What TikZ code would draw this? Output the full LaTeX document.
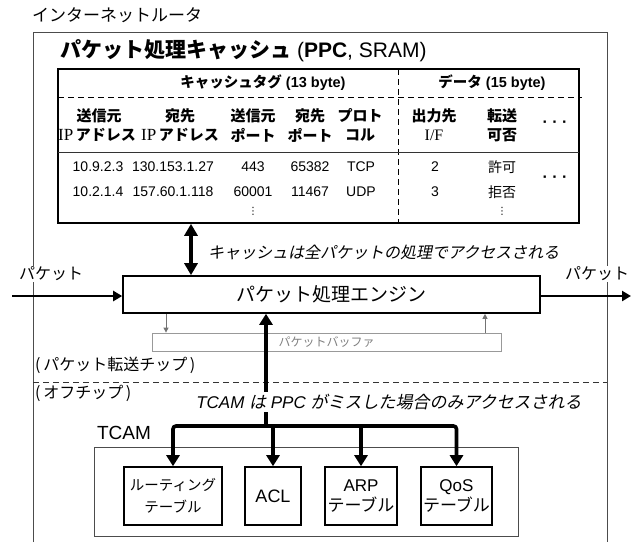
\documentclass[tikz,border=0pt]{standalone}
\usepackage{fontspec}
\setmainfont{Liberation Sans}
\newfontfamily\jp{Noto Sans CJK JP}
\newfontfamily\jpsl{Noto Sans CJK JP}[FakeSlant=0.2]
\newfontfamily\srf{Liberation Serif}
\newfontfamily\dv{DejaVu Sans}
\usetikzlibrary{arrows.meta}
\newcommand\myfs[2]{\fontsize{#1}{#2}\selectfont}
\tikzset{
  lbl/.style={inner sep=0pt, align=center},
  tbox/.style={draw, line width=1.6pt, inner sep=0pt, align=center},
  thk/.style={line width=3.6pt},
  bigtip/.style={-{Triangle[length=11pt,width=13pt]}},
  dbltip/.style={{Triangle[length=12pt,width=13pt]}-{Triangle[length=12pt,width=13pt]}},
  pk/.style={line width=2.8pt, -{Triangle[length=9pt,width=10pt]}},
  garr/.style={draw=black!55, line width=0.9pt, -{Triangle[length=5pt,width=5pt]}},
  thin/.style={draw=black!70, line width=0.8pt},
  hd/.style={lbl, font=\myfs{15}{15}\jp\bfseries},
  hdl/.style={lbl, font=\myfs{15}{15}},
  dat/.style={lbl, font=\myfs{14}{14}},
}
\begin{document}
\begin{tikzpicture}[x=1pt,y=-1pt]
\useasboundingbox (0,0) rectangle (636,542);
% router frame
\coordinate (rbl) at (33,542);
\coordinate (rtl) at (33,32);
\coordinate (rtr) at (607,32);
\coordinate (rbr) at (607,542);
\draw[thin] (rbl) -- (rtl) -- (rtr) -- (rbr);
\node[lbl, anchor=west] (router) at (32,15) {\myfs{17}{17}\jp インターネットルータ};
% title
\node[lbl, anchor=west] (ppc) at (60,51) {\myfs{21}{21}{\jp\bfseries パケット処理キャッシュ} ({\bfseries PPC}, SRAM)};
% table
\node[tbox, minimum width=521pt, minimum height=154pt] (tbl) at (318.5,146) {};
\coordinate (dhl) at (58,97);
\coordinate (dhr) at (582,97);
\draw[black, line width=0.9pt, dash pattern=on 6pt off 4pt] (dhl) -- (dhr);
\coordinate (dvt) at (398,69);
\coordinate (dvb) at (398,223);
\draw[black, line width=0.9pt, dash pattern=on 6pt off 4pt] (dvt) -- (dvb);
\coordinate (sl) at (58,152);
\coordinate (sr) at (579,152);
\draw[black!80, line width=0.8pt] (sl) -- (sr);
\node[lbl, font=\myfs{14.5}{14.5}\bfseries] (cap1) at (263,83) {{\jp キャッシュタグ} (13 byte)};
\node[lbl, font=\myfs{14.5}{14.5}\bfseries] (cap2) at (492,83) {{\jp データ} (15 byte)};
% headers
\node[hd] (h1a) at (99,116) {送信元};
\node[hdl] (h1b) at (97,135) {{\myfs{17}{17}\srf IP}\,{\jp\bfseries アドレス}};
\node[hd] (h2a) at (180,116) {宛先};
\node[hdl] (h2b) at (180,135) {{\myfs{17}{17}\srf IP}\,{\jp\bfseries アドレス}};
\node[hd] (h3a) at (253,116) {送信元};
\node[hd] (h3b) at (253,135) {ポート};
\node[hd] (h4a) at (310,116) {宛先};
\node[hd] (h4b) at (310,135) {ポート};
\node[hd] (h5a) at (360,116) {プロト};
\node[hd] (h5b) at (360,135) {コル};
\node[hd] (h6a) at (434,116) {出力先};
\node[hdl] (h6b) at (434,135) {\myfs{16}{16}\srf I/F};
\node[hd] (h7a) at (502,116) {転送};
\node[hd] (h7b) at (502,135) {可否};
\node[lbl, font=\myfs{16}{16}\bfseries] (hdots) at (555,124) {· · ·};
% rows
\node[dat] (r1a) at (98,167) {10.9.2.3};
\node[dat] (r1b) at (173,167) {130.153.1.27};
\node[dat] (r1c) at (253,167) {443};
\node[dat] (r1d) at (310,167) {65382};
\node[dat] (r1e) at (361,167) {TCP};
\node[dat] (r1f) at (435,167) {2};
\node[dat] (r1g) at (502,167) {\jp 許可};
\node[dat] (r2a) at (98,192) {10.2.1.4};
\node[dat] (r2b) at (173,192) {157.60.1.118};
\node[dat] (r2c) at (253,192) {60001};
\node[dat] (r2d) at (310,192) {11467};
\node[dat] (r2e) at (361,192) {UDP};
\node[dat] (r2f) at (435,192) {3};
\node[dat] (r2g) at (502,192) {\jp 拒否};
\node[lbl, font=\myfs{16}{16}\bfseries] (rdots) at (555,179) {· · ·};
\node[lbl, font=\myfs{10}{10}\dv] (vd1) at (253,211) {⋮};
\node[lbl, font=\myfs{10}{10}\dv] (vd2) at (502,211) {⋮};
% engine
\node[tbox, minimum width=417pt, minimum height=37pt] (engine) at (331.5,294.5) {\myfs{19}{19}\jp パケット処理エンジン};
\coordinate (dax) at (191,0);
\draw[thk, dbltip] (tbl.south -| dax) -- (engine.north -| dax);
\node[lbl, anchor=west] (capnote) at (208,252) {\myfs{16}{16}\jpsl キャッシュは全パケットの処理でアクセスされる};
% packets in/out
\coordinate (pin) at (12,296);
\coordinate (pout) at (631,296);
\draw[pk] (pin) -- (engine.west |- pin);
\draw[pk] (engine.east |- pout) -- (pout);
\node[lbl, fill=white, inner sep=1pt] (pl) at (51,274) {\myfs{16}{16}\jp パケット};
\node[lbl, fill=white, inner sep=1pt] (pr) at (597,274) {\myfs{16}{16}\jp パケット};
% buffer
\node[draw=black!40, line width=0.8pt, minimum width=349pt, minimum height=18pt, inner sep=0pt] (buf) at (326.5,342) {\myfs{12}{12}\color{black!50}\jp パケットバッファ};
\coordinate (ga) at (166,0);
\coordinate (gb) at (485,0);
\draw[garr] (engine.south -| ga) -- (buf.north -| ga);
\draw[garr] (buf.north -| gb) -- (engine.south -| gb);
% chip boundary
\coordinate (dl) at (33,382);
\coordinate (dr) at (607,382);
\draw[black!80, line width=0.8pt, dash pattern=on 6pt off 4pt] (dl) -- (dr);
\node[lbl, anchor=west] (chip) at (35,365) {\myfs{16}{16}\jp (\,パケット転送チップ\,)};
\node[lbl, anchor=west] (off) at (35,393) {\myfs{16}{16}\jp (\,オフチップ\,)};
% TCAM
\node[draw=black!70, line width=0.8pt, minimum width=424pt, minimum height=89pt, inner sep=0pt] (tcam) at (306,491.5) {};
\node[lbl] (tcaml) at (124,433) {\myfs{19}{19}TCAM};
\node[tbox, minimum width=98pt, minimum height=58pt, font=\myfs{14.5}{22}\jp] (rt) at (173,496) {ルーティング\\テーブル};
\node[tbox, minimum width=56pt, minimum height=58pt, font=\myfs{18}{18}] (acl) at (273,496) {ACL};
\node[tbox, minimum width=72pt, minimum height=58pt, font=\myfs{17}{20}] (arp) at (361,496) {ARP\\\jp テーブル};
\node[tbox, minimum width=71pt, minimum height=58pt, font=\myfs{17}{20}] (qos) at (456.5,496) {QoS\\\jp テーブル};
\coordinate (mx) at (266,426);
\draw[thk, bigtip] (mx) -- (engine.south -| mx);
\draw[thk, rounded corners=3pt, {Triangle[length=11pt,width=13pt]}-{Triangle[length=11pt,width=13pt]}] (rt.north) -- (rt.north |- mx) -- (qos.north |- mx) -- (qos.north);
\draw[thk, bigtip] (acl.north |- mx) -- (acl.north);
\draw[thk, bigtip] (arp.north |- mx) -- (arp.north);
\node[lbl, fill=white, inner sep=2pt] (tnote) at (389,402) {\myfs{17}{17}{\itshape TCAM} {\jpsl は} {\itshape PPC} {\jpsl がミスした場合のみアクセスされる}};
\end{tikzpicture}
\end{document}
